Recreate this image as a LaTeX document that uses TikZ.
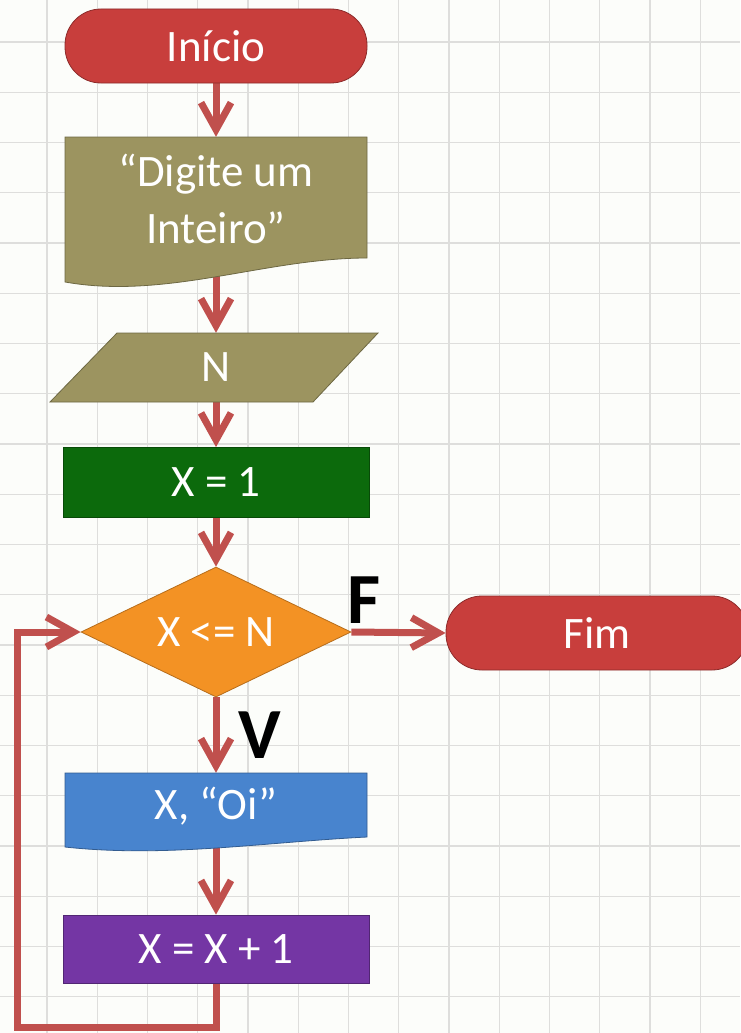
\documentclass[tikz,border=0pt]{standalone}
\usepackage{fontspec}
\setmainfont{Carlito}
\usetikzlibrary{shapes.geometric, arrows.meta}
\pgfdeclarelayer{background}
\pgfsetlayers{background,main}
\definecolor{corseta}{RGB}{192,80,77}
\definecolor{vermelho}{RGB}{200,62,60}
\definecolor{oliva}{RGB}{156,148,96}
\definecolor{verde}{RGB}{12,106,12}
\definecolor{laranja}{RGB}{243,146,36}
\definecolor{azul}{RGB}{72,132,206}
\definecolor{roxo}{RGB}{116,54,164}
\definecolor{grade}{RGB}{222,222,220}
\definecolor{fundo}{RGB}{252,253,250}
\tikzset{
	bloco/.style={text=white, font=\fontsize{45}{57}\selectfont, inner sep=0pt, align=center},
	terminal/.style={bloco, fill=vermelho, draw=vermelho!70!black, line width=0.8pt, rounded corners=36pt, minimum width=302pt, minimum height=74pt},
	processo/.style={bloco, rectangle, line width=0.8pt, minimum width=306pt, minimum height=70pt},
	fluxo/.style={draw=corseta, line width=7pt, >={Straight Barb[length=27pt,width=30pt]}},
	rotulo/.style={font=\fontsize{72}{72}\selectfont\bfseries, inner sep=1pt}
}

\begin{document}
\begin{tikzpicture}[x=1pt, y=-1pt]
		\useasboundingbox (0,0) rectangle (740,1033);
		\begin{pgfonlayer}{background}
			\fill[fundo] (0,0) rectangle (740,1033);
			\foreach \i in {0,...,13} \draw[grade, line width=1.3pt] ({47+50.25*\i},0) -- ({47+50.25*\i},1033);
			\foreach \j in {0,...,19} \draw[grade, line width=1.3pt] (0,{42+50.25*\j}) -- (740,{42+50.25*\j});
		\end{pgfonlayer}
		\node[terminal] (inicio) at (216,46) {Início};
		\filldraw[fill=oliva, draw=oliva!70!black, line width=0.8pt] (65,137) -- (367,137) -- (367,258) .. controls (266,258) and (166,300) .. (65,282) -- cycle;
		\node[bloco, minimum width=302pt, minimum height=124pt] (msg) at (216,199) {“Digite um\\Inteiro”};
		\filldraw[fill=oliva, draw=oliva!70!black, line width=0.8pt] (117,333) -- (378,333) -- (313,402) -- (50,402) -- cycle;
		\node[bloco, minimum height=69pt] (leitura) at (216,367.5) {N};
		\node[processo, fill=verde, draw=verde!70!black] (x1) at (216,482.5) {X = 1};
		\node[diamond, bloco, fill=laranja, draw=laranja!75!black, line width=0.8pt, minimum width=270pt, minimum height=130pt] (cond) at (216,632) {\makebox[0pt]{X <= N}};
		\node[terminal] (fim) at (597,633) {Fim};
		\filldraw[fill=azul, draw=azul!70!black, line width=0.8pt] (65,773) -- (367,773) -- (367,837) .. controls (266,842) and (166,858) .. (65,847) -- cycle;
		\node[bloco, minimum width=302pt, minimum height=66pt] (saida) at (216,806) {X, “Oi”};
		\node[processo, fill=roxo, draw=roxo!70!black, minimum height=68pt] (incr) at (216,949) {X = X + 1};
		\coordinate (volta) at (17,1027);
		\begin{pgfonlayer}{background}
			\draw[fluxo,->] (inicio.south) -- (msg.north);
			\draw[fluxo,->] (msg.south) -- (leitura.north);
			\draw[fluxo,->] (leitura.south) -- (x1.north);
			\draw[fluxo,->] (x1.south) -- (cond.north);
			\draw[fluxo,->] (cond.east) -- node[rotulo, pos=0.13, above=4pt] {F} (fim.west);
			\draw[fluxo,->] (cond.south) -- node[rotulo, right=18pt] {V} (saida.north);
			\draw[fluxo,->] (saida.south) -- (incr.north);
			\draw[fluxo,->] (incr.south) |- (volta) |- (cond.west);
		\end{pgfonlayer}
	\end{tikzpicture}
\end{document}
